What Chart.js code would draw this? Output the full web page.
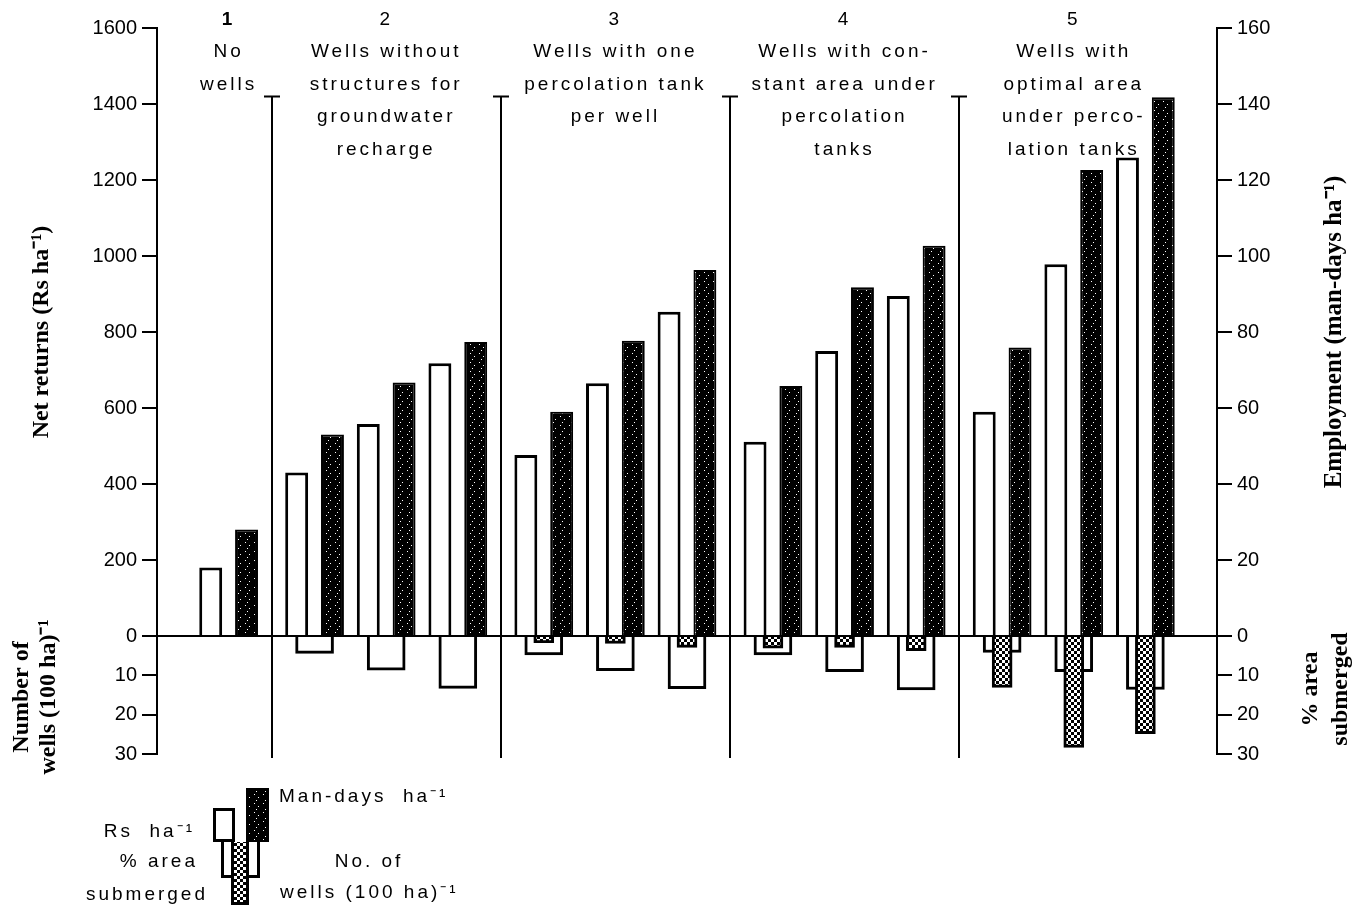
<!DOCTYPE html>
<html>
<head>
<meta charset="utf-8">
<title>Net returns, employment, wells and area submerged</title>
<script src="https://cdn.jsdelivr.net/npm/chart.js@4.4.0/dist/chart.umd.min.js"></script>
<style>
  html, body { margin: 0; padding: 0; background: #fff; }
  #wrap { width: 1367px; height: 906px; }
</style>
</head>
<body>
<div id="wrap"><canvas id="grafico" width="1367" height="906"></canvas></div>
<script>
// Encabezados de los bloques de escenarios
const groupNumbers = ['1', '2', '3', '4', '5'];
const groupTexts = [
  ['No', 'wells'],
  ['Wells without', 'structures for', 'groundwater', 'recharge'],
  ['Wells with one', 'percolation tank', 'per well'],
  ['Wells with con-', 'stant area under', 'percolation', 'tanks'],
  ['Wells with', 'optimal area', 'under perco-', 'lation tanks']
];

// Un valor por escenario (pareja de barras)
const scenarioGroup = [0, 1, 1, 1, 2, 2, 2, 3, 3, 3, 4, 4, 4];
const netReturns    = [180, 430, 558, 718, 476, 665, 853, 511, 750, 895, 590, 978, 1259];            // Rs ha-1
const manDays       = [28, 53, 66.7, 77.4, 59, 77.7, 96.3, 65.8, 91.8, 102.7, 75.9, 122.6, 141.8];  // man-days ha-1
const wellsPer100ha = [null, 4.4, 8.7, 13.3, 4.8, 8.8, 13.4, 4.8, 9.1, 13.7, 4.2, 9.1, 13.6];       // (100 ha)-1
const areaSubmerged = [null, null, null, null, 1.7, 1.9, 2.9, 3.1, 2.9, 3.7, 13.1, 28.3, 24.8];      // %

// Marcas de los ejes
const returnTicks     = [0, 200, 400, 600, 800, 1000, 1200, 1400, 1600];
const employmentTicks = [0, 20, 40, 60, 80, 100, 120, 140, 160];
const wellTicks       = [0, 10, 20, 30];
const areaTicks       = [0, 10, 20, 30];

// Posicion de cada pareja en el eje x (hueco extra entre bloques)
const GROUP_GAP = 0.2;
const xPos = scenarioGroup.map((g, i) => i + 1 + GROUP_GAP * g);
const xMax = xPos[xPos.length - 1] + 1;

const FUENTE = "'Liberation Sans', Arial, sans-serif";
const SERIF = "'Liberation Serif', 'Times New Roman', serif";

// Tramas: negro punteado (jornales) y cuadriculado (% area)
function trama(size, fondo, tinta, puntos) {
  const c = document.createElement('canvas');
  c.width = size; c.height = size;
  const g = c.getContext('2d');
  g.fillStyle = fondo; g.fillRect(0, 0, size, size);
  g.fillStyle = tinta;
  puntos.forEach(p => g.fillRect(p[0], p[1], p[2], p[3]));
  return g.createPattern(c, 'repeat');
}
const tramaJornales = trama(9, '#000', '#fff', [[2, 2, 1, 1], [6, 5, 1, 1], [4, 8, 1, 1]]);
const tramaArea = trama(6, '#000', '#fff', [[0, 0, 3, 3], [3, 3, 3, 3]]);

const puntos = (arr) => arr.map((v, i) => ({ x: xPos[i], y: v }));

function ticksDe(lista) {
  return (scale) => { scale.ticks = lista.map(v => ({ value: v })); };
}

const fuenteTicks = { family: FUENTE, size: 20 };

function ejeY(extra) {
  return Object.assign({
    grid: { drawOnChartArea: false, color: '#000', tickColor: '#000', tickLength: 15, lineWidth: 2 },
    border: { color: '#000', width: 2 },
    ticks: { color: '#000', font: fuenteTicks, padding: 5, autoSkip: false, callback: (v) => String(v) }
  }, extra);
}

// Texto girado (se lee de abajo hacia arriba), una columna por linea
function textoVertical(ctx, lineas, x, y, sep) {
  lineas.forEach((t, k) => {
    ctx.save();
    ctx.translate(x + k * sep, y);
    ctx.rotate(-Math.PI / 2);
    ctx.fillText(t, 0, 0);
    ctx.restore();
  });
}

const decoraciones = {
  id: 'decoraciones',
  afterDraw(chart) {
    const { ctx, scales } = chart;
    const sx = scales.x, sy = scales.y, sw = scales.yW, sm = scales.yM, sa = scales.yA;
    ctx.save();
    ctx.fillStyle = '#000';
    ctx.strokeStyle = '#000';

    // Separadores verticales entre bloques
    ctx.lineWidth = 2;
    const arriba = sy.getPixelForValue(1420);
    const abajo = sw.getPixelForValue(31);
    for (let g = 1; g < groupTexts.length; g++) {
      const a = xPos[scenarioGroup.lastIndexOf(g - 1)];
      const b = xPos[scenarioGroup.indexOf(g)];
      const px = Math.round(sx.getPixelForValue((a + b) / 2));
      ctx.beginPath();
      ctx.moveTo(px, arriba); ctx.lineTo(px, abajo);
      ctx.moveTo(px - 8, arriba); ctx.lineTo(px + 8, arriba);
      ctx.stroke();
    }

    // Encabezados de los bloques
    ctx.textAlign = 'center';
    ctx.textBaseline = 'middle';
    ctx.letterSpacing = '3px';
    groupTexts.forEach((lineas, g) => {
      const a = xPos[scenarioGroup.indexOf(g)];
      const b = xPos[scenarioGroup.lastIndexOf(g)];
      const cx = sx.getPixelForValue((a + b) / 2);
      ctx.font = (g === 0 ? 'bold ' : '') + '19px ' + FUENTE;
      ctx.fillText(groupNumbers[g], cx, 20);
      ctx.font = '19px ' + FUENTE;
      lineas.forEach((t, k) => ctx.fillText(t, cx, 52 + k * 32.5));
    });
    ctx.letterSpacing = '0px';

    // Titulos de los ejes
    ctx.font = 'bold 24px ' + SERIF;
    textoVertical(ctx, ['Net returns (Rs ha\u207B\u00B9)'], 42, (sy.top + sy.bottom) / 2, 0);
    textoVertical(ctx, ['Number of', 'wells (100 ha)\u207B\u00B9'], 22, (sw.top + sw.bottom) / 2 + 2, 27);
    ctx.font = 'bold 25px ' + SERIF;
    textoVertical(ctx, ['Employment (man-days ha\u207B\u00B9)'], 1335, (sm.top + sm.bottom) / 2, 0);
    ctx.font = 'bold 24px ' + SERIF;
    textoVertical(ctx, ['% area', 'submerged'], 1311, (sa.top + sa.bottom) / 2 - 6, 30);

    // Leyenda (simbolo compuesto abajo a la izquierda)
    const y0 = 842;
    const caja = (x, y, w, h, relleno, borde, sinArriba) => {
      ctx.fillStyle = relleno;
      ctx.fillRect(x, y, w, h);
      ctx.fillStyle = '#000';
      ctx.fillRect(x, y, borde, h);
      ctx.fillRect(x + w - borde, y, borde, h);
      ctx.fillRect(x, y + h - borde, w, borde);
      if (!sinArriba) ctx.fillRect(x, y, w, borde);
    };
    caja(213, 808, 22, y0 - 808, '#fff', 3, false);
    caja(246, 788, 23, y0 - 788, tramaJornales, 2, false);
    caja(221, y0, 39, 36, '#fff', 3, true);
    caja(231, y0, 18, 63, tramaArea, 3, true);

    ctx.fillStyle = '#000';
    ctx.font = '19px ' + FUENTE;
    ctx.letterSpacing = '3px';
    ctx.textAlign = 'left';
    ctx.fillText('Man-days  ha\u207B\u00B9', 279, 797);
    ctx.fillText('wells (100 ha)\u207B\u00B9', 280, 893);
    ctx.textAlign = 'right';
    ctx.fillText('Rs  ha\u207B\u00B9', 195, 832);
    ctx.fillText('% area', 198, 862);
    ctx.fillText('submerged', 208, 895);
    ctx.textAlign = 'center';
    ctx.fillText('No. of', 369, 862);
    ctx.restore();
  }
};

new Chart(document.getElementById('grafico'), {
  type: 'bar',
  data: {
    datasets: [
      {
        label: 'Rs ha-1',
        data: puntos(netReturns),
        yAxisID: 'y',
        stack: 'rs',
        order: 2,
        backgroundColor: '#fff',
        borderColor: '#000',
        borderWidth: 3,
        categoryPercentage: 1,
        barPercentage: 0.64
      },
      {
        label: 'Man-days ha-1',
        data: puntos(manDays),
        yAxisID: 'yM',
        stack: 'md',
        order: 3,
        backgroundColor: tramaJornales,
        borderColor: '#000',
        borderWidth: 2,
        categoryPercentage: 1,
        barPercentage: 0.64
      },
      {
        label: 'No. of wells (100 ha)-1',
        data: puntos(wellsPer100ha),
        yAxisID: 'yW',
        order: 1,
        grouped: false,
        barThickness: 38,
        backgroundColor: '#fff',
        borderColor: '#000',
        borderWidth: 3
      },
      {
        label: '% area submerged',
        data: puntos(areaSubmerged),
        yAxisID: 'yA',
        order: 0,
        grouped: false,
        barThickness: 20,
        backgroundColor: tramaArea,
        borderColor: '#000',
        borderWidth: 3
      }
    ]
  },
  options: {
    responsive: false,
    devicePixelRatio: 1,
    animation: false,
    layout: { padding: { top: 28, bottom: 152, left: 0, right: 0 } },
    plugins: { legend: { display: false }, tooltip: { enabled: false } },
    scales: {
      x: {
        type: 'linear',
        display: false,
        offset: false,
        min: 0,
        max: xMax,
        afterBuildTicks: ticksDe(xPos)
      },
      y: ejeY({
        position: 'left', stack: 'left', stackWeight: 608 / 118, weight: 1,
        min: returnTicks[0], max: returnTicks[returnTicks.length - 1],
        afterBuildTicks: ticksDe(returnTicks),
        afterFit: (s) => { s.width = 157; },
        border: { color: '#000', width: 2, z: 1 },
        grid: {
          drawOnChartArea: true, z: 1, tickLength: 15, lineWidth: 2, tickColor: '#000',
          color: (c) => (c.tick && c.tick.value === 0 ? '#000' : 'rgba(0,0,0,0)')
        }
      }),
      yW: ejeY({
        position: 'left', stack: 'left', stackWeight: 1, weight: 0, reverse: true,
        min: wellTicks[0], max: wellTicks[wellTicks.length - 1],
        afterBuildTicks: ticksDe(wellTicks),
        afterFit: (s) => { s.width = 157; },
        ticks: { color: '#000', font: fuenteTicks, padding: 5, autoSkip: false,
                 callback: (v) => (v === 0 ? '' : String(v)) }
      }),
      yM: ejeY({
        position: 'right', stack: 'right', stackWeight: 608 / 118, weight: 0,
        min: employmentTicks[0], max: employmentTicks[employmentTicks.length - 1],
        afterBuildTicks: ticksDe(employmentTicks),
        afterFit: (s) => { s.width = 150; }
      }),
      yA: ejeY({
        position: 'right', stack: 'right', stackWeight: 1, weight: 1, reverse: true,
        min: areaTicks[0], max: areaTicks[areaTicks.length - 1],
        afterBuildTicks: ticksDe(areaTicks),
        afterFit: (s) => { s.width = 150; },
        ticks: { color: '#000', font: fuenteTicks, padding: 5, autoSkip: false,
                 callback: (v) => (v === 0 ? '' : String(v)) }
      })
    }
  },
  plugins: [decoraciones]
});
</script>
</body>
</html>
